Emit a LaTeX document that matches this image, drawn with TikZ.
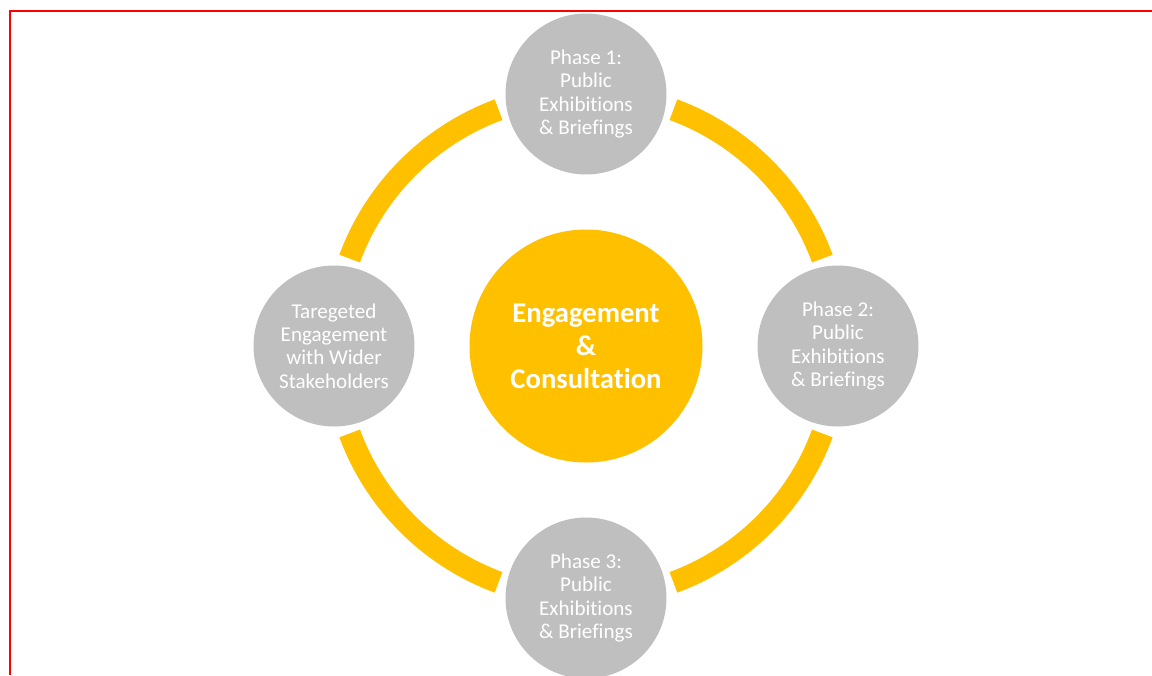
\documentclass[tikz,border=0pt]{standalone}
\usepackage{fontspec}
\setmainfont{Carlito}[Ligatures=NoCommon]
\definecolor{ringyellow}{HTML}{FFC000}
\definecolor{phasegrey}{HTML}{BFBFBF}
\begin{document}
\begin{tikzpicture}[
  phase/.style={circle,fill=phasegrey,text=white,minimum size=3.22cm,inner sep=0pt,align=center,font=\fontsize{12}{13.2}\selectfont},
  hub/.style={circle,fill=ringyellow,text=white,minimum size=4.66cm,inner sep=0pt,align=center,font=\fontsize{16.3}{18.7}\selectfont\bfseries},
  ring/.style={ringyellow,line width=0.44cm}]
\useasboundingbox (-11.72,-6.58) rectangle (11.32,6.92);
\draw[red,line width=0.04cm] (-11.51,-6.58) -- (-11.51,6.70) -- (11.32,6.70);

\node (E) at (0,0) [hub] {Engagement\\\&\\Consultation};

\node (P1) at (0,5.04) [phase] {Phase 1:\\Public\\Exhibitions\\\& Briefings};
\node (P2) at (5.04,0) [phase] {Phase 2:\\Public\\Exhibitions\\\& Briefings};
\node (P3) at (0,-5.04) [phase] {Phase 3:\\Public\\Exhibitions\\\& Briefings};
\node (T) at (-5.04,0) [phase] {Taregeted\\Engagement\\with Wider\\Stakeholders};

\foreach \a in {0,90,180,270}
  \draw[ring] ([shift={(\a+20.3:5.04)}]E.center) arc[start angle=\a+20.3,end angle=\a+69.7,radius=5.04];

\end{tikzpicture}
\end{document}
